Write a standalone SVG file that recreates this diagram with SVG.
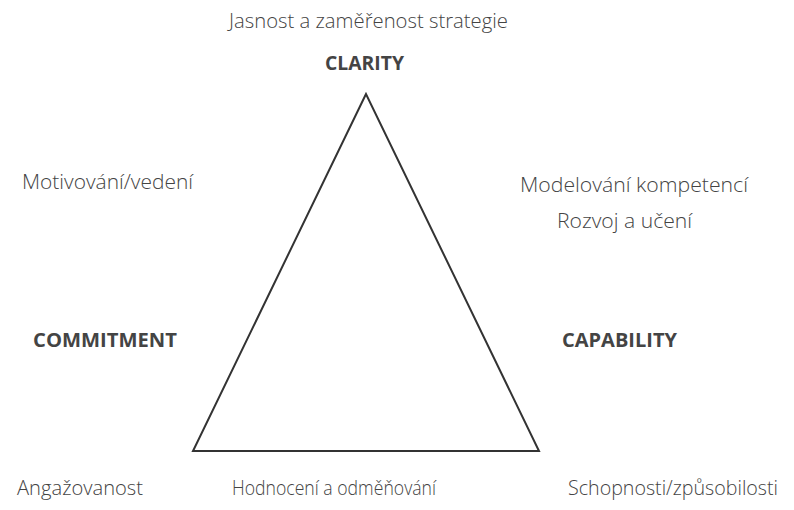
<svg xmlns="http://www.w3.org/2000/svg" width="794" height="510" viewBox="0 0 794 510">
<style>
.t{font-family:"Open Sans","Liberation Sans",sans-serif;font-weight:300;font-size:20.5px;fill:#444}
.b{font-family:"Open Sans","Liberation Sans",sans-serif;font-weight:700;font-size:19px;fill:#444}
.e{fill:none;stroke:#333;stroke-width:2;stroke-linejoin:miter}
</style>
<rect width="794" height="510" fill="#fff"/>
<g id="connectors">
<polygon class="e" points="366,94 193,451 539,451"/>
</g>
<g id="clarity">
<text class="t" x="229" y="28" textLength="279" lengthAdjust="spacingAndGlyphs">Jasnost a zaměřenost strategie</text>
<text class="b" x="325" y="70" textLength="79" lengthAdjust="spacingAndGlyphs">CLARITY</text>
</g>
<g id="commitment">
<text class="t" x="22" y="189" textLength="171" lengthAdjust="spacingAndGlyphs">Motivování/vedení</text>
<text class="b" x="33" y="347" textLength="144" lengthAdjust="spacingAndGlyphs">COMMITMENT</text>
<text class="t" x="17" y="495" textLength="126" lengthAdjust="spacingAndGlyphs">Angažovanost</text>
</g>
<g id="capability">
<text class="t" x="520" y="192" textLength="228" lengthAdjust="spacingAndGlyphs">Modelování kompetencí</text>
<text class="t" x="557" y="228" textLength="135" lengthAdjust="spacingAndGlyphs">Rozvoj a učení</text>
<text class="b" x="562" y="347" textLength="115" lengthAdjust="spacingAndGlyphs">CAPABILITY</text>
<text class="t" x="568" y="495" textLength="210" lengthAdjust="spacingAndGlyphs">Schopnosti/způsobilosti</text>
</g>
<g id="base">
<text class="t" x="232" y="495" textLength="204" lengthAdjust="spacingAndGlyphs">Hodnocení a odměňování</text>
</g>
</svg>
